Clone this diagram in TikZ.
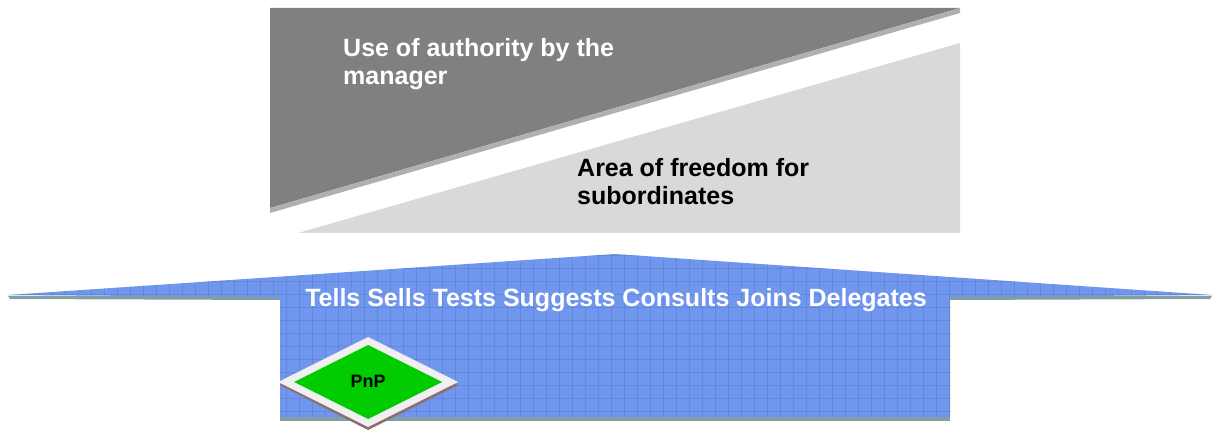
\documentclass[tikz,border=0pt]{standalone}
\usepackage{fontspec}
\setmainfont{Liberation Sans}
\usetikzlibrary{positioning}
\definecolor{authgray}{RGB}{128,128,128}
\definecolor{freegray}{RGB}{217,217,217}
\definecolor{edgegray}{RGB}{176,176,176}
\definecolor{bandblue}{RGB}{112,150,238}
\definecolor{gridblue}{RGB}{70,110,190}
\definecolor{ledgeteal}{RGB}{130,160,160}
\definecolor{pnpgreen}{RGB}{0,204,0}
\definecolor{pnprim}{RGB}{240,240,240}
\definecolor{pnpshade}{RGB}{140,110,110}

\begin{document}
\begin{tikzpicture}[x=1pt, y=-1pt,
  lbl/.style={font=\bfseries\fontsize{25}{28}\selectfont,
              align=left, anchor=base west, inner sep=0pt},
  ledge/.style={fill=ledgeteal, draw=none},
  gridln/.style={draw=gridblue, opacity=0.3, line width=0.5pt}
]
  \useasboundingbox (0,0) rectangle (1215,430);

  % authority vs freedom
  \fill[authgray] (270,8) -- (960,8) -- (270,208) -- cycle;
  \fill[edgegray] (270,208) -- (960,8) -- (960,13) -- (270,213) -- cycle;
  \fill[freegray] (298,233) -- (960,43) -- (960,233) -- cycle;
  \node[lbl, text=white] (auth) at (343,85)
    {Use of authority by the\\manager};
  \node[lbl, text=black] (free) at (577,205)
    {Area of freedom for\\subordinates};

  % behaviour band
  \fill[ledge] (8,296) -- (280,296) -- (280,300) -- (10,299) -- cycle;
  \fill[ledge] (950,296) -- (1212,296) -- (1210,299) -- (950,300) -- cycle;
  \fill[ledge] (280,416) rectangle (950,421);
  \path[fill=bandblue] (8,295) -- (615,254) -- (1212,295)
    -- (950,297) -- (950,417) -- (280,417) -- (280,297) -- cycle;
  \begin{scope}
    \clip (8,295) -- (615,254) -- (1212,295)
      -- (950,297) -- (950,417) -- (280,417) -- (280,297) -- cycle;
    \foreach \gx in {0,13,...,1215}
      \draw[gridln] (\gx,250) -- (\gx,420);
    \foreach \gy in {255,268,...,420}
      \draw[gridln] (0,\gy) -- (1215,\gy);
  \end{scope}
  \node[lbl, text=white, anchor=base] (styles) at (616,306)
    {Tells Sells Tests Suggests Consults Joins Delegates};

  % PnP marker
  \fill[pnpshade] (280,385) -- (368,340) -- (458,385) -- (368,430) -- cycle;
  \fill[pnprim] (278,382) -- (368,337) -- (458,382) -- (368,427) -- cycle;
  \fill[pnpgreen] (294,382) -- (368,345) -- (442,382) -- (368,419) -- cycle;
  \node[font=\bfseries\fontsize{18}{20}\selectfont] (pnp) at (368,381) {PnP};
\end{tikzpicture}
\end{document}
